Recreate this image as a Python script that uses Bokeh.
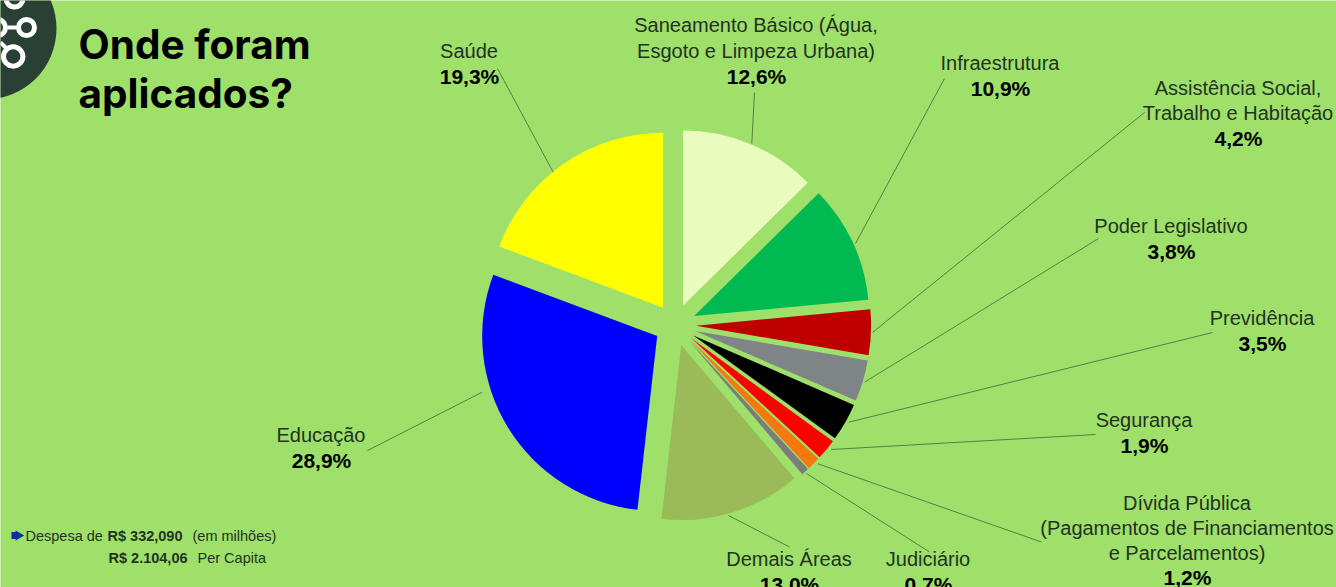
from math import pi, sin, cos
from bokeh.plotting import figure
from bokeh.embed import file_html
from bokeh.resources import INLINE
from bokeh.core.properties import value

categories = ["Saneamento Básico", "Infraestrutura", "Assistência Social", "Poder Legislativo", "Previdência",
              "Segurança", "Dívida Pública", "Judiciário", "Demais Áreas", "Educação", "Saúde"]
shares = [12.6, 10.9, 4.2, 3.8, 3.5, 1.9, 1.2, 0.7, 13.0, 28.9, 19.3]
colors = ["#E9FCBD", "#00B950", "#BE0000", "#7F8486", "#000000", "#FF0000", "#F47A10", "#7C7C7C", "#9BBB59", "#0000FF", "#FFFF00"]

BG = "#9FE06B"
W, H = 1336, 587
CX, CY, R, GAP = 674.6, H - 324.5, 175, 21

p = figure(width=W, height=H, x_range=(0, W), y_range=(0, H), output_backend="svg", toolbar_location=None,
           background_fill_color=BG, border_fill_color=BG, outline_line_color=None, min_border=0)
p.axis.visible = False
p.grid.visible = False

# icon
p.circle(x=[-15], y=[H - 28], radius=71, fill_color="#2A4034", line_color=None)
p.circle(x=[26, 12.7, 14, -3], y=[H - 27, H - 56, H + 2, H - 27], radius=[8, 9.7, 8.5, 8], fill_color=None,
         line_color="white", line_width=5)
p.segment(x0=[7, 0], y0=[H - 27, H - 42], x1=[18, 7], y1=[H - 27, H - 49], line_color="white", line_width=4)

# pie
start = 0.0
for s, c in zip(shares, colors):
    a0, a1 = start, start + s * 3.6
    mid = (a0 + a1) / 2 * pi / 180
    x = CX + GAP * sin(mid)
    y = CY + GAP * cos(mid)
    p.wedge(x=[x], y=[y], radius=R, start_angle=pi / 2 - a1 * pi / 180, end_angle=pi / 2 - a0 * pi / 180,
            fill_color=c, line_color=None)
    start = a1

# leaders
lead_x0 = [497, 754, 944, 1144, 1098, 1212, 1095, 1041, 929, 789, 367]
lead_y0 = [68, 92, 78, 112, 238, 332, 434, 541.5, 551.5, 546.5, 450]
lead_x1 = [552.7, 751.3, 855, 872.3, 864, 848.3, 830.7, 817.6, 806, 728, 481.7]
lead_y1 = [171.7, 143, 243, 331.7, 381.7, 421.7, 449, 463.3, 473, 515, 391.7]
p.segment(x0=lead_x0, y0=[H - v for v in lead_y0], x1=lead_x1, y1=[H - v for v in lead_y1],
          line_color="#44663A", line_width=0.8)

SANS = "Liberation Sans"
def txt(x, y, t, size, bold=False, align="center", font=SANS, color="#223322"):
    p.text(x=[x], y=[H - y], text=[t], text_font=value(font), text_font_size=f"{size}px",
           text_font_style="bold" if bold else "normal", text_align=align, text_baseline="middle",
           text_color=color)

label_lines = [
    (469, [(52, "Saúde")], 77, "19,3%"),
    (756, [(26, "Saneamento Básico (Água,"), (52, "Esgoto e Limpeza Urbana)")], 77, "12,6%"),
    (1000, [(64, "Infraestrutura")], 89, "10,9%"),
    (1238, [(89, "Assistência Social,"), (114, "Trabalho e Habitação")], 139, "4,2%"),
    (1171, [(227, "Poder Legislativo")], 252, "3,8%"),
    (1262, [(319, "Previdência")], 344, "3,5%"),
    (1144, [(421, "Segurança")], 446, "1,9%"),
    (1187, [(504, "Dívida Pública"), (529, "(Pagamentos de Financiamentos"), (554, "e Parcelamentos)")], 578, "1,2%"),
    (789, [(560, "Demais Áreas")], 585, "13,0%"),
    (928, [(560, "Judiciário")], 585, "0,7%"),
    (321, [(436, "Educação")], 461, "28,9%"),
]
for x, lines, py, pct in label_lines:
    for y, t in lines:
        txt(x - 0.5, y - 1.5, t, 20)
    txt(x, py - 1.5, pct, 21, bold=True, color="#000000")

# title
txt(78, 44, "Onde foram", 40.5, bold=True, align="left", font="Inter", color="#000000")
txt(78, 93, "aplicados?", 40.5, bold=True, align="left", font="Inter", color="#000000")

# footer
p.scatter(x=[18], y=[H - 535], marker="triangle", size=10, angle=-pi / 2, fill_color="#0A2FA0", line_color=None)
p.rect(x=[14], y=[H - 535], width=6, height=7, fill_color="#0A2FA0", line_color=None)
txt(25, 535, "Despesa de", 14.5, align="left")
txt(107, 535, "R$ 332,090", 14.5, bold=True, align="left")
txt(192, 535, "(em milhões)", 14.5, align="left")
txt(108, 557, "R$ 2.104,06", 14.5, bold=True, align="left")
txt(197, 557, "Per Capita", 14.5, align="left")

TEMPLATE = """<!DOCTYPE html>
<html lang="pt"><head><meta charset="utf-8"><title>Onde foram aplicados?</title>
<style>html,body{margin:0;padding:0;overflow:hidden;background:#9FE06B}</style>
{{ bokeh_css }}{{ bokeh_js }}</head>
<body>{{ plot_div }}{{ plot_script }}</body></html>"""
open("out.html", "w").write(file_html(p, INLINE, template=TEMPLATE))
